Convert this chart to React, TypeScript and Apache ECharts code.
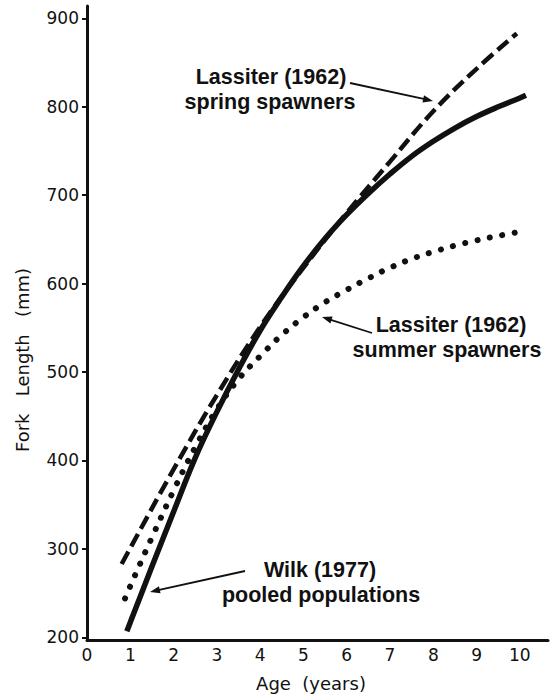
import React, { useEffect, useRef } from "react";
import * as echarts from "echarts";

// ---- Data ----
const xTickValues = [0, 1, 2, 3, 4, 5, 6, 7, 8, 9, 10];
const yTickValues = [200, 300, 400, 500, 600, 700, 800, 900];

// Wilk (1977) pooled populations - solid
const wilkAges = [0.92, 1, 1.5, 2, 2.5, 3, 3.5, 4, 4.5, 5, 5.5, 6, 6.5, 7, 7.5, 8, 8.5, 9, 9.5, 10, 10.14];
const wilkLengths = [207, 217, 280, 342, 403, 455, 503, 547, 585, 620, 651, 678, 702, 724, 744, 761, 776, 789, 800, 810, 813];

// Lassiter (1962) spring spawners - dashed
const springAges = [0.8, 1, 2, 3, 4, 5, 6, 7, 8, 9, 9.93];
const springLengths = [283, 301, 390, 474, 551, 618, 680, 738, 795, 843, 883];

// Lassiter (1962) summer spawners - dotted
const summerAges = [0.88, 1, 1.5, 2, 2.5, 3, 3.5, 4, 4.5, 5, 5.5, 6, 6.5, 7, 7.5, 8, 8.5, 9, 9.5, 9.93];
const summerLengths = [244, 258, 313, 366, 415, 458, 492, 518, 542, 562, 579, 593, 606, 618, 628, 636, 643, 649, 654, 658];

const INK = "#111";
const NB = "\u00A0";

function pairs(xs: number[], ys: number[]) {
  return xs.map((x, i) => [x, ys[i]]);
}

function arrow(x1: number, y1: number, x2: number, y2: number) {
  const dx = x2 - x1;
  const dy = y2 - y1;
  const len = Math.sqrt(dx * dx + dy * dy);
  const ux = dx / len;
  const uy = dy / len;
  const nx = -uy;
  const ny = ux;
  const hl = 10;
  const hw = 3.6;
  const bx = x2 - ux * hl;
  const by = y2 - uy * hl;
  return [
    {
      type: "line",
      shape: { x1, y1, x2: x2 - ux * 6, y2: y2 - uy * 6 },
      style: { stroke: INK, lineWidth: 1.8 },
    },
    {
      type: "polygon",
      shape: {
        points: [
          [x2, y2],
          [bx + nx * hw, by + ny * hw],
          [bx - nx * hw, by - ny * hw],
        ],
      },
      style: { fill: INK },
    },
  ];
}

function label(text: string, x: number, y: number) {
  return {
    type: "text",
    x,
    y,
    style: {
      text,
      fill: INK,
      fontSize: 21.5,
      fontWeight: "bold",
      fontFamily: "Liberation Sans, Arial, sans-serif",
      align: "center",
      verticalAlign: "middle",
      textAlign: "center",
      textVerticalAlign: "middle",
    },
  };
}

export default function App() {
  const ref = useRef<HTMLDivElement>(null);

  useEffect(() => {
    if (!ref.current) return;
    const chart = echarts.init(ref.current, undefined, { renderer: "svg" });
    const option: any = {
      animation: false,
      backgroundColor: "#fff",
      grid: {
        left: 87,
        top: 6,
        width: 461,
        height: 634,
        containLabel: false,
        outerBoundsMode: "none",
      },
      xAxis: {
        type: "value",
        min: 0,
        max: 10.65,
        interval: 1,
        axisLine: { show: true, lineStyle: { color: INK, width: 3 } },
        axisTick: { show: false },
        splitLine: { show: false },
        axisLabel: {
          customValues: xTickValues,
          color: INK,
          fontSize: 17,
          fontFamily: "DejaVu Sans, sans-serif",
          margin: 6,
          formatter: (v: number) => (xTickValues.indexOf(v) >= 0 ? String(v) : ""),
        },
      },
      yAxis: {
        type: "value",
        min: 197,
        max: 914,
        axisLine: { show: true, lineStyle: { color: INK, width: 3 } },
        axisTick: {
          show: true,
          customValues: yTickValues,
          length: 5,
          lineStyle: { color: INK, width: 2 },
        },
        splitLine: { show: false },
        axisLabel: {
          customValues: yTickValues,
          color: INK,
          fontSize: 17,
          fontFamily: "DejaVu Sans, sans-serif",
          margin: 8,
          formatter: (v: number) => (yTickValues.indexOf(v) >= 0 ? String(v) : ""),
        },
      },
      series: [
        {
          name: "Lassiter (1962) summer spawners",
          type: "line",
          data: pairs(summerAges, summerLengths),
          smooth: 0.4,
          showSymbol: false,
          lineStyle: { color: INK, width: 6, type: [0.1, 12.5], cap: "round" },
        },
        {
          name: "Lassiter (1962) spring spawners",
          type: "line",
          data: pairs(springAges, springLengths),
          smooth: 0.4,
          showSymbol: false,
          lineStyle: { color: INK, width: 4.5, type: [14, 6], cap: "butt" },
        },
        {
          name: "Wilk (1977) pooled populations",
          type: "line",
          data: pairs(wilkAges, wilkLengths),
          smooth: 0.4,
          showSymbol: false,
          lineStyle: { color: INK, width: 5.5, type: "solid", cap: "butt" },
        },
      ],
      graphic: [
        {
          type: "text",
          x: 311,
          y: 683,
          style: {
            text: "Age" + NB + NB + "(years)",
            fill: INK,
            fontSize: 18,
            fontFamily: "DejaVu Sans, sans-serif",
            align: "center",
            verticalAlign: "middle",
            textAlign: "center",
            textVerticalAlign: "middle",
          },
        },
        {
          type: "text",
          x: 22,
          y: 360,
          rotation: Math.PI / 2,
          style: {
            text: "Fork" + NB + NB + NB + "Length" + NB + NB + NB + "(mm)",
            fill: INK,
            fontSize: 18,
            fontFamily: "DejaVu Sans, sans-serif",
            align: "center",
            verticalAlign: "middle",
            textAlign: "center",
            textVerticalAlign: "middle",
          },
        },
        label("Lassiter (1962)", 271, 77),
        label("spring spawners", 270, 102),
        ...arrow(350, 83, 433, 101),
        label("Lassiter (1962)", 451, 325),
        label("summer spawners", 447, 350),
        ...arrow(372, 333, 322, 317),
        label("Wilk (1977)", 320, 570),
        label("pooled populations", 321, 595),
        ...arrow(245, 571, 150, 592),
      ],
    };
    chart.setOption(option);
    return () => {
      chart.dispose();
    };
  }, []);

  return (
    <div
      ref={ref}
      style={{ position: "absolute", left: 0, top: 0, width: 554, height: 696, background: "#fff" }}
    />
  );
}
